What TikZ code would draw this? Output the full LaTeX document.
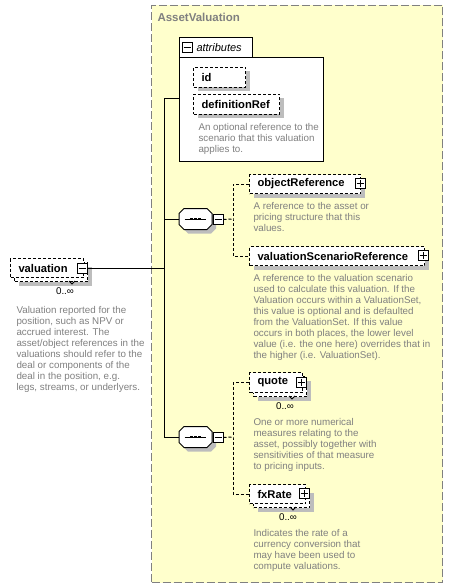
\documentclass[tikz,border=0pt]{standalone}
\usepackage{fontspec}
\setmainfont{Liberation Sans}
\usetikzlibrary{shadows}

\definecolor{boxyellow}{HTML}{FFFFCC}
\definecolor{descgray}{HTML}{808080}
\definecolor{shadowgray}{HTML}{BDBDBD}

\newcommand{\labelfont}{\fontsize{11.2}{13}\selectfont\bfseries}
\newcommand{\descfont}{\fontsize{9.8}{11}\selectfont}
\newcommand{\headfont}{\fontsize{11.5}{13}\selectfont\bfseries}

% small boxes with a minus or a plus sign
\newcommand{\collapsebox}[2]{%
	\node[iconbox] (#1) at (#2) {};
	\draw ([xshift=2pt]#1.west) -- ([xshift=-2pt]#1.east);
}
\newcommand{\expandbox}[2]{%
	\node[iconbox] (#1) at (#2) {};
	\draw ([xshift=2pt]#1.west) -- ([xshift=-2pt]#1.east);
	\draw ([yshift=-2pt]#1.north) -- ([yshift=2pt]#1.south);
}
% the sequence compositor, an octagon with three dots
\newcommand{\octpath}[1]{([xshift=5pt]#1.north west) -- ([xshift=-5pt]#1.north east) -- ([yshift=-5pt]#1.north east) -- ([yshift=5pt]#1.south east) -- ([xshift=-5pt]#1.south east) -- ([xshift=5pt]#1.south west) -- ([yshift=5pt]#1.south west) -- ([yshift=-5pt]#1.north west) -- cycle}
\newcommand{\seqicon}[2]{%
	\node[seqbox] (#1) at (#2) {};
	\node[seqbox] (#1sh) at ([shift={(4pt,-4pt)}]#1.center) {};
	\fill[shadowgray] \octpath{#1sh};
	\draw[fill=white] \octpath{#1};
	\draw ([xshift=5.5pt]#1.west) -- ([xshift=-6.5pt]#1.east);
	\foreach \dx in {-4,0,4}
		\fill ([xshift=\dx pt]#1.center) +(-1.3,-1.3) rectangle +(1.3,1.3);
}

\begin{document}
\begin{tikzpicture}
		[x=1pt,y=-1pt,line width=1pt,
		 group/.style={draw=descgray,dash pattern=on 8pt off 3pt,fill=boxyellow,anchor=north west,inner sep=0pt},
		 elem/.style={draw,dash pattern=on 3pt off 2pt,fill=white,anchor=north west,inner xsep=8pt,inner ysep=0pt,align=left,minimum height=19pt,font=\labelfont},
		 withshadow/.style={drop shadow={shadow xshift=4pt,shadow yshift=-4pt,fill=shadowgray,opacity=1}},
		 iconbox/.style={draw,fill=white,minimum size=10pt,inner sep=0pt},
		 seqbox/.style={minimum width=32pt,minimum height=20pt,inner sep=0pt},
		 desc/.style={anchor=north west,inner sep=0pt,align=left,text=descgray,font=\descfont},
		 mult/.style={inner sep=0pt,font=\descfont},
		 dashline/.style={dash pattern=on 3pt off 2pt}]
		\useasboundingbox (0,0) rectangle (452,588);

		% the AssetValuation type
		\node[group,minimum width=291pt,minimum height=577pt] (assetval) at (151,5) {};
		\node[anchor=base west,inner sep=0pt,text=descgray,font=\headfont] (assettitle) at (157,22) {AssetValuation};

		% draw the attributes box with its tab
		\node[draw,fill=white,anchor=north west,minimum width=144pt,minimum height=104pt,inner sep=0pt] (attrs) at (179,57) {};
		\fill[white] (179.5,38.5) rectangle (251.5,57.5);
		\draw (179,57) -- (179,38) -- (252,38) -- (252,57);
		\collapsebox{attrmin}{187,48}
		\node[anchor=west,inner sep=0pt,font=\fontsize{11}{13}\selectfont\itshape] (attrtitle) at (196,48) {attributes};
		\node[elem,withshadow,text width=36pt,minimum height=20pt] (id) at (193,67) {id};
		\node[elem,withshadow,text width=70pt,minimum height=20pt] (defref) at (193,94) {definitionRef};
		\node[desc] (attrdesc) at (198,122.8) {An optional reference to the\\scenario that this valuation\\applies to.};

		% first sequence
		\seqicon{seqa}{195.5,219}
		\collapsebox{seqamin}{218,219.5}
		\node[elem,withshadow,text width=95pt] (objref) at (249,174) {objectReference};
		\expandbox{objrefplus}{360,183.5}
		\node[desc] (objdesc) at (253,202.3) {A reference to the asset or\\pricing structure that this\\values.};
		\node[elem,withshadow,text width=159pt] (vsr) at (249,246) {valuationScenarioReference};
		\expandbox{vsrplus}{423,255.5}
		\node[desc] (vsrdesc) at (253,273.8) {A reference to the valuation scenario\\used to calculate this valuation. If the\\Valuation occurs within a ValuationSet,\\this value is optional and is defaulted\\from the ValuationSet. If this value\\occurs in both places, the lower level\\value (i.e. the one here) overrides that in\\the higher (i.e. ValuationSet).};

		% second sequence
		\seqicon{seqb}{195.5,437}
		\collapsebox{seqbmin}{218,437.5}
		\node[elem,withshadow,text width=37pt,minimum height=20pt] (quoteback) at (253,376) {};
		\draw (289,396) -- (292,399) -- (295,396);
		\node[elem,text width=37pt,minimum height=20pt] (quote) at (249,372) {quote};
		\expandbox{quoteplus}{301,382}
		\node[mult] (quotemult) at (285,406) {0..∞};
		\node[desc] (quotedesc) at (253,417.8) {One or more numerical\\measures relating to the\\asset, possibly together with\\sensitivities of that measure\\to pricing inputs.};
		\node[elem,withshadow,text width=40pt] (fxback) at (253,488) {};
		\draw (290,507) -- (293,510) -- (296,507);
		\node[elem,text width=40pt] (fxrate) at (249,484) {fxRate};
		\expandbox{fxplus}{304,493.5}
		\node[mult] (fxmult) at (288,517) {0..∞};
		\node[desc] (fxdesc) at (253,528.8) {Indicates the rate of a\\currency conversion that\\may have been used to\\compute valuations.};

		% the valuation element
		\node[elem,withshadow,text width=57pt] (valback) at (14,262) {};
		\draw (69,281) -- (72,284) -- (75,281);
		\node[elem,text width=57pt] (valuation) at (10,258) {valuation};
		\collapsebox{valmin}{82,268}
		\node[mult] (valmult) at (65,291) {0..∞};
		\node[desc] (valdesc) at (16,305.5) {Valuation reported for the\\position, such as NPV or\\accrued interest. The\\asset/object references in the\\valuations should refer to the\\deal or components of the\\deal in the position, e.g.\\legs, streams, or underlyers.};

		% draw the connectors
		\coordinate (attrj) at (164,99);
		\coordinate (valj) at (164,268);
		\coordinate (seqaj) at (233,219);
		\coordinate (seqbj) at (233,437);
		\draw (valmin.east) -- (valj);
		\draw (attrj) -- (attrj |- seqb.west) -- (seqb.west);
		\draw (attrj) -- (attrj -| attrs.west);
		\draw (attrj |- seqa.west) -- (seqa.west);
		\draw[dashline] (seqamin.east) -- (seqaj);
		\draw[dashline] (objref.west) -| (seqaj) |- (vsr.west);
		\draw[dashline] (seqbmin.east) -- (seqbj);
		\draw[dashline] (quote.west) -| (seqbj) |- (fxrate.west);
	\end{tikzpicture}
\end{document}
